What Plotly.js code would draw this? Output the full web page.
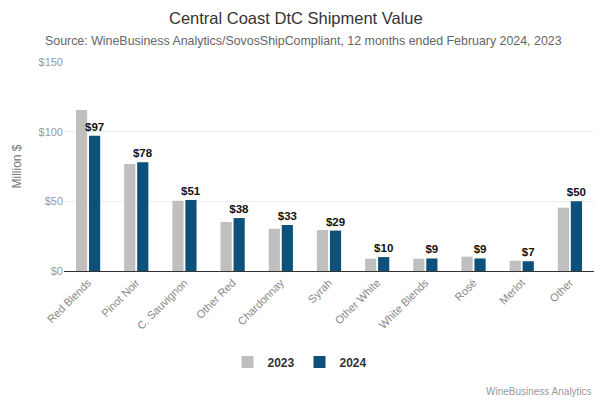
<!DOCTYPE html>
<html><head><meta charset="utf-8">
<script src="https://cdn.plot.ly/plotly-3.0.1.min.js"></script>
<style>body{margin:0}#c{width:600px;height:400px}</style>
</head><body><div id="c"></div>
<script>
const categories = ["Red Blends","Pinot Noir","C. Sauvignon","Other Red","Chardonnay","Syrah","Other White","White Blends","Rosé","Merlot","Other"];
const values2023 = [115.6,76.8,50.4,35.2,30.3,29.4,8.8,8.8,10.3,7.4,45.4];
const values2024 = [97,78,51,38,33,29,10,9,9,7,50];
const labels2024 = values2024.map(v => "$" + v);
const FONT = "Liberation Sans, Arial, sans-serif";
const traces = [
  {type:"bar", name:"2023", x:categories, y:values2023, marker:{color:"#bfbfbf"}, hoverinfo:"none"},
  {type:"bar", name:"2024", x:categories, y:values2024, marker:{color:"#0d5079"},
   text:labels2024, textposition:"outside", cliponaxis:false, constraintext:"none",
   textfont:{family:FONT, size:11.5, color:"#111", weight:"bold"}, hoverinfo:"none"}
];
const layout = {
  width:600, height:400,
  margin:{l:64, r:6, t:62, b:129, autoexpand:false},
  font:{family:FONT, color:"#666"},
  paper_bgcolor:"#fff", plot_bgcolor:"#fff",
  barmode:"group", bargap:0.46, bargroupgap:0.14,
  xaxis:{tickangle:-45, tickfont:{size:11, color:"#888"}, showline:true, linecolor:"#333", linewidth:1, ticks:"", fixedrange:true},
  yaxis:{range:[0,150], tickvals:[0,50,100,150], ticktext:["$0","$50","$100","$150"],
         tickfont:{size:11, color:"#999"}, gridcolor:"#eeeeee", zeroline:false,
         title:{text:"Million $", font:{size:12, color:"#777"}, standoff:14}},
  legend:{orientation:"h", xref:"container", x:0.5, xanchor:"center", yref:"container", y:0.095, yanchor:"middle",
          font:{size:12, color:"#333", weight:"bold"}, traceorder:"normal", itemwidth:30},
  annotations:[
    {text:"Central Coast DtC Shipment Value", xref:"paper", yref:"paper", x:(296-64)/530, xanchor:"center",
     y:(271-18)/209, yanchor:"middle", showarrow:false, font:{size:16.5, color:"#333"}},
    {text:"Source: WineBusiness Analytics/SovosShipCompliant, 12 months ended February 2024, 2023", xref:"paper", yref:"paper", x:(303-64)/530, xanchor:"center",
     y:(271-41)/209, yanchor:"middle", showarrow:false, font:{size:12.4, color:"#666"}},
    {text:"WineBusiness Analytics", xref:"paper", yref:"paper", x:1, xanchor:"right",
     y:(271-391)/209, yanchor:"middle", showarrow:false, font:{size:10, color:"#999"}}
  ]
};
Plotly.newPlot("c", traces, layout, {displayModeBar:false, staticPlot:true});
</script></body></html>
